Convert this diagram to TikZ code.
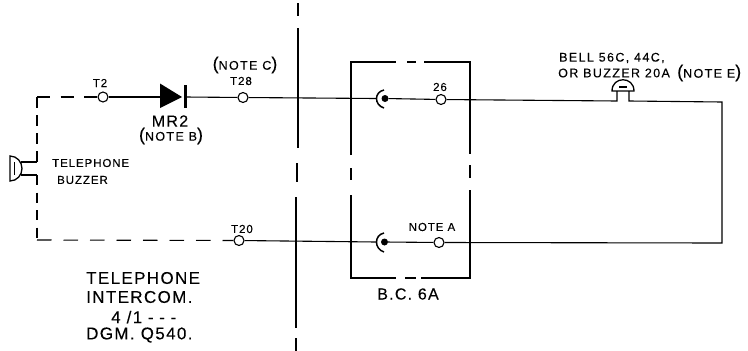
\documentclass[tikz,border=0pt]{standalone}
\usepackage{fontspec}
\setmainfont{Liberation Sans}
\newfontfamily\labfont[LetterSpace=8,FakeBold=0.15]{Liberation Sans}
\newfontfamily\notefont[LetterSpace=11,FakeBold=0.15]{Liberation Sans}
\newfontfamily\bigfont[LetterSpace=8,FakeBold=0.15]{Liberation Sans}
\newcommand{\bigpar}[1]{{\fontsize{18}{18}\selectfont #1}}
\tikzset{
  wire/.style={line width=1.1pt,black},
  heavy/.style={line width=2pt,black},
  term/.style={circle,draw=black,fill=white,line width=1.1pt,minimum size=10pt,inner sep=0pt},
  dotnode/.style={circle,fill=black,minimum size=7pt,inner sep=0pt},
  small/.style={font=\labfont\fontsize{11.5}{12}\selectfont,inner sep=0pt,text=black},
  note/.style={font=\notefont\fontsize{12.5}{14}\selectfont,inner sep=0pt,text=black},
  mid/.style={font=\bigfont\fontsize{16}{18}\selectfont,inner sep=0pt,text=black},
  large/.style={font=\bigfont\fontsize{17}{18}\selectfont,inner sep=0pt,text=black,anchor=west},
  bellshape/.style={line width=1.3pt,black,fill=white},
  jackarc/.style={line width=1.5pt,black}
}
\begin{document}
\begin{tikzpicture}[x=1pt,y=-1pt]
\useasboundingbox (0,0) rectangle (748,351);
% terminals
\node[term] (t2) at (103,97) {};
\node[term] (t28) at (243,97.5) {};
\node[term] (t20) at (239,240.5) {};
\node[term] (t26) at (441,99.5) {};
\node[term] (tA) at (439,242.5) {};
\node[dotnode] (jackA) at (385,98.5) {};
\node[dotnode] (jackB) at (384.5,242) {};
% junction points
\coordinate (cTL) at (37,97);
\coordinate (cBL) at (37,240);
\coordinate (buzTop) at (37,162);
\coordinate (buzBot) at (37,175);
\coordinate (buzA) at (21,162);
\coordinate (buzB) at (21,175);
\coordinate (arcA) at (376,98.5);
\coordinate (arcB) at (376,242);
\coordinate (bellL) at (617,101);
\coordinate (bellR) at (629,101);
\coordinate (bellLt) at (617,91);
\coordinate (bellRt) at (629,91);
\coordinate (cTR) at (722,102);
\coordinate (cBR) at (722,243);
\coordinate (diodeIn) at (160,97);
\coordinate (diodeOut) at (185,97);
% wires
\draw[wire] (t2) -- (diodeIn);
\draw[wire] (diodeOut) -- (t28);
\draw[wire] (t28) -- (arcA);
\draw[wire] (jackA) -- (t26);
\draw[wire] (t26) -- (bellL) -- (bellLt);
\draw[wire] (bellRt) -- (bellR) -- (cTR) -- (cBR) -- (tA);
\draw[wire] (tA) -- (jackB);
\draw[wire] (t20) -- (arcB);
% dashed connectors
\draw[wire,dash pattern=on 13pt off 10.5pt] (cTL) -- (t2);
\draw[wire,dash pattern=on 11pt off 7pt] (cTL) -- (buzTop);
\draw[wire,dash pattern=on 10pt off 7.5pt] (buzBot) -- (cBL);
\draw[wire,dash pattern=on 14.5pt off 12pt] (cBL) -- (t20);
% buzzer
\draw[wire] (buzA) -- (buzTop);
\draw[wire] (buzB) -- (buzBot);
\draw[line width=1.3pt,black,fill=white] (10,156) .. controls (17,156) and (22,162) .. (22,168.5) .. controls (22,175) and (17,181) .. (10,181) -- cycle;
\draw[line width=1pt] (14,162) -- (14,175);
% diode
\fill[black] (160,83.5) -- (182,97) -- (160,108) -- cycle;
\draw[line width=3pt,black] (185,85) -- (185,108);
% centre dashed line
\draw[heavy] (297.5,3) -- (297.5,16);
\draw[heavy] (297.5,28) -- (297.5,148);
\draw[heavy] (297,163) -- (297,182);
\draw[heavy] (296,197) -- (296,328);
\draw[heavy] (295.5,338) -- (295.5,351);
% relay box
\draw[heavy] (351,155) -- (351,62) -- (396,62);
\draw[heavy] (407,62) -- (416,62);
\draw[heavy] (424,62) -- (469.5,62) -- (469.5,154);
\draw[heavy] (350.5,168) -- (350.5,180);
\draw[heavy] (469.5,165) -- (469.5,178);
\draw[heavy] (350.5,195) -- (350.5,278) -- (396,278);
\draw[heavy] (405,278) -- (416,278);
\draw[heavy] (421,278) -- (469.5,278) -- (469.5,190);
% jacks
\draw[jackarc] (384,90) .. controls (374,92) and (374,105) .. (384,108);
\draw[jackarc] (384,233) .. controls (374,235) and (374,249) .. (384,252);
% bell
\draw[bellshape] (612,91) .. controls (612,76) and (634,76) .. (634,91) -- cycle;
\draw[line width=1.2pt] (619,87) -- (627,87);
% labels
\node[small] (lT2) at (100,83) {T2};
\node[small] (lT28) at (241,81) {T28};
\node[note] (lNC) at (245,65) {\bigpar{(}NOTE C\bigpar{)}};
\node[mid] (lMR) at (170,121) {MR2};
\node[note] (lNB) at (171,136) {\bigpar{(}NOTE B\bigpar{)}};
\node[small,anchor=west] (lTel) at (52,163) {TELEPHONE};
\node[small,anchor=west] (lBuz) at (57,180) {BUZZER};
\node[small] (lT20) at (242,229) {T20};
\node[large] (lL1) at (86,278) {TELEPHONE};
\node[large] (lL2) at (86,297) {INTERCOM.};
\node[large] (lL3) at (111,317) {4 /1\,\,-\,\,-\,\,-};
\node[large] (lL4) at (86,335) {DGM. Q540.};
\node[small] (l26) at (440,87) {26};
\node[small] (lNA) at (432,227) {NOTE A};
\node[mid] (lBC) at (408,294) {B.C. 6A};
\node[note,anchor=west] (lB1) at (559,58) {BELL 56C, 44C,};
\node[note,anchor=west] (lB2) at (558,73) {OR BUZZER 20A};
\node[note,anchor=west] (lNE) at (677,73) {\bigpar{(}NOTE E\bigpar{)}};
\end{tikzpicture}
\end{document}
